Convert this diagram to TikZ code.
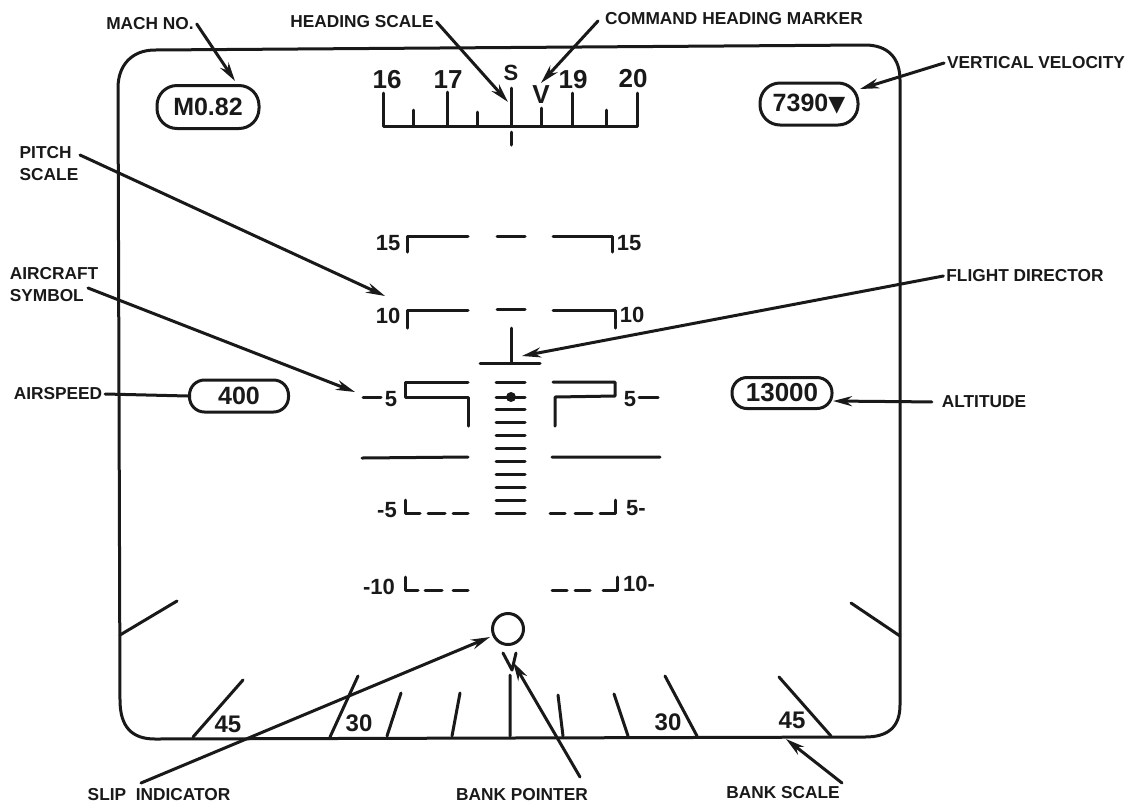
\documentclass[tikz,border=0pt]{standalone}
\usepackage{fontspec}
\setmainfont{Liberation Sans}
\newfontfamily\symfont{DejaVu Sans}
\usetikzlibrary{arrows.meta}
\tikzset{
  ink/.style={line width=3pt,line cap=round,line join=round,black!90},
  callout/.style={line width=3pt,line cap=round,line join=round,black!90,-{Stealth[length=19pt,width=10pt]}},
  lead/.style={line width=3pt,line cap=round,line join=round,black!90},
  lab/.style={inner sep=0pt,outer sep=3pt,font=\fontsize{17.3}{22}\selectfont\bfseries,align=left,text=black!90},
  big/.style={inner sep=0pt,font=\fontsize{26}{28}\selectfont\bfseries,text=black!90},
  mid/.style={inner sep=0pt,font=\fontsize{22}{24}\selectfont\bfseries,text=black!90},
  readout/.style={draw,line width=3pt,rounded corners=15pt,inner sep=0pt,font=\fontsize{25}{28}\selectfont\bfseries,black!90},
}
\begin{document}
\begin{tikzpicture}[x=1pt,y=-1pt]
\useasboundingbox (0,0) rectangle (1137,807);
% frame
\draw[ink] (155,50) -- (865,45) .. controls (888,45) and (900,58) .. (900,80)
  -- (900,705) .. controls (900,727) and (888,737) .. (865,737)
  -- (155,739) .. controls (132,739) and (120,727) .. (120,700)
  -- (118,88) .. controls (118,65) and (132,50) .. (155,50) -- cycle;
% heading scale
\draw[ink] (383,93) -- (383,126) -- (637,126) -- (637,93);
\draw[ink] (413,110) -- (413,126) (447,92) -- (447,126) (477,112) -- (477,126)
  (511,88) -- (511,126) (541,108) -- (541,126) (572,93) -- (572,126) (606,110) -- (606,126)
  (511.5,132) -- (511.5,145);
\node[big] (h16) at (387,80) {16};
\node[big] (h17) at (448,80) {17};
\node[mid] (hS) at (511,73) {S};
\node[big] (hV) at (541,95) {V};
\node[big] (h19) at (573,80) {19};
\node[big] (h20) at (633,79) {20};
% readouts
\node[readout,minimum width=102pt,minimum height=43pt,rounded corners=20pt] (mach) at (208,107) {M0.82};
\node[readout,minimum width=98pt,minimum height=42pt,rounded corners=20pt] (vv) at (809,104) {7390{\symfont\fontsize{22}{24}\selectfont ▼}};
\node[readout,minimum width=99pt,minimum height=32pt] (air) at (239,396) {400};
\node[readout,minimum width=100pt,minimum height=31pt,font=\fontsize{26}{28}\selectfont\bfseries] (alt) at (782,393) {13000};
% pitch 15
\node[mid] (p15l) at (388,243) {15};
\node[mid] (p15r) at (629,243) {15};
\draw[ink] (407,252) -- (407,236) -- (468,236) (497,236) -- (525,236) (553,236) -- (612,236) -- (612,252);
% pitch 10
\node[mid] (p10l) at (388,316) {10};
\node[mid] (p10r) at (632,315) {10};
\draw[ink] (407,328) -- (407,310) -- (468,310) (497,309) -- (525,309) (553,310) -- (615,310) -- (615,328);
% flight director
\draw[ink] (511,328) -- (511,363) (480,363) -- (540,363);
% aircraft symbol + pitch 5
\draw[ink] (468,382) -- (405,382) -- (405,397) -- (468,397) -- (468,426);
\draw[ink] (553,382) -- (615,382) -- (615,396) -- (555,397) -- (555,426);
\draw[ink] (363,397) -- (381,397) (639,397) -- (658,397);
\node[mid] (p5l) at (391,399) {5};
\node[mid] (p5r) at (630,399) {5};
% horizon
\draw[ink] (362,458) -- (468,457) (552,457) -- (660,457);
% centre ladder
\foreach \yy in {382,397,409,422,435,448,461,474,487,500,513}
  \draw[ink] (496,\yy) -- (525,\yy);
\fill[black!90] (511,397) circle (5pt);
% pitch -5
\node[mid] (m5l) at (387,510) {-5};
\node[mid] (m5r) at (636,508) {5-};
\draw[ink] (405,500) -- (405,513) -- (420,513) (428,513) -- (445,513) (453,513) -- (468,513);
\draw[ink] (550,513) -- (565,513) (575,513) -- (592,513) (600,513) -- (615,513) -- (615,500);
% pitch -10
\node[mid] (m10l) at (379,587) {-10};
\node[mid] (m10r) at (639,584) {10-};
\draw[ink] (405,577) -- (405,590) -- (418,590) (425,590) -- (442,590) (453,590) -- (468,590);
\draw[ink] (552,590) -- (567,590) (575,590) -- (590,590) (603,590) -- (617,590) -- (617,577);
% slip and bank
\node[draw,circle,line width=3pt,minimum size=31pt,inner sep=0pt,black!90] (slip) at (508,629) {};
\draw[ink] (503,653) -- (512,670) -- (516,653);
\draw[ink] (120,635) -- (177,601) (851,603) -- (900,636)
  (193,737) -- (243,680) (330,737) -- (358,676) (387,736) -- (401,693) (452,736) -- (460,693)
  (510,736) -- (510,675) (563,736) -- (558,695) (628,736) -- (614,694) (697,736) -- (665,676)
  (831,736) -- (779,677);
\node[mid,font=\fontsize{24}{26}\selectfont\bfseries] (b45l) at (228,724) {45};
\node[mid,font=\fontsize{24}{26}\selectfont\bfseries] (b30l) at (359,723) {30};
\node[mid,font=\fontsize{24}{26}\selectfont\bfseries] (b30r) at (668,722) {30};
\node[mid,font=\fontsize{24}{26}\selectfont\bfseries] (b45r) at (792,720) {45};
% labels
\node[lab] (lmach) at (150,24) {MACH NO.};
\node[lab] (lhead) at (362,22) {HEADING SCALE};
\node[lab] (lcmd) at (734,19) {COMMAND HEADING MARKER};
\node[lab] (lvv) at (1036,63) {VERTICAL VELOCITY};
\node[lab] (lpitch) at (49,164) {PITCH\\SCALE};
\node[lab] (lac) at (54,285) {AIRCRAFT\\SYMBOL};
\node[lab] (las) at (58,394) {AIRSPEED};
\node[lab] (lfd) at (1025,276) {FLIGHT DIRECTOR};
\node[lab] (lalt) at (984,402) {ALTITUDE};
\node[lab] (lslip) at (159,795) {SLIP\ \ INDICATOR};
\node[lab] (lbp) at (522,795) {BANK POINTER};
\node[lab] (lbs) at (783,793) {BANK SCALE};
% arrow targets
\coordinate (tmach) at (235,81);
\coordinate (thead) at (508,102);
\coordinate (tcmd) at (541,83);
\coordinate (tvv) at (860,89);
\coordinate (tpitch) at (385,296);
\coordinate (tac) at (355,392);
\coordinate (tfd) at (522,356);
\coordinate (talt) at (833,401);
\coordinate (tslip) at (490,637);
\coordinate (tbp) at (513,662);
\coordinate (tbs) at (786,739);
\coordinate (sslip) at (141,783);
\coordinate (sbp) at (580,777);
\coordinate (sbs) at (842,783);
\coordinate (scmd) at (598,21);
\coordinate (spitch) at (80,155);
\coordinate (sac) at (88,288);
% connectors
\draw[callout] (lmach.east) -- (tmach);
\draw[callout] (lhead.east) -- (thead);
\draw[callout] (scmd) -- (tcmd);
\draw[callout] (lvv.west) -- (tvv);
\draw[callout] (spitch) -- (tpitch);
\draw[callout] (sac) -- (tac);
\draw[lead] (las.east) -- (air.west);
\draw[callout] (lfd.west) -- (tfd);
\draw[callout,shorten <=7pt] (lalt.west) -- (talt);
\draw[callout] (sslip) -- (tslip);
\draw[callout] (sbp) -- (tbp);
\draw[callout] (sbs) -- (tbs);
\end{tikzpicture}
\end{document}
